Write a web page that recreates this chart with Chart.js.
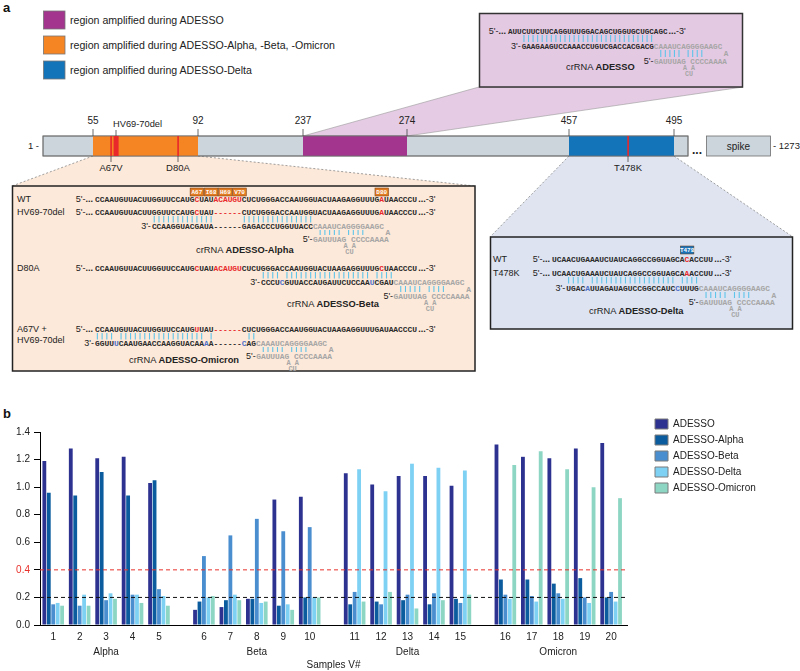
<!DOCTYPE html>
<html>
<head>
<meta charset="utf-8">
<script src="https://cdn.jsdelivr.net/npm/chart.js@4.4.1/dist/chart.umd.min.js"></script>
<style>
  html, body { margin: 0; padding: 0; background: #fff; }
  #page { position: relative; width: 800px; height: 671px; overflow: hidden; font-family: "Liberation Sans", Arial, sans-serif; }
  #diagram { position: absolute; left: 0; top: 0; }
  #chartBox { position: absolute; left: 0; top: 400px; width: 800px; height: 271px; }
  .panel { position: absolute; font-weight: bold; font-size: 13px; color: #111; }
</style>
</head>
<body>
<div id="page">
  <svg id="diagram" width="800" height="400"></svg>
  <div class="panel" style="left:3px;top:406px">b</div>
  <div id="chartBox"><canvas id="chart"></canvas></div>
</div>
<script>
// ---------- panel b data ----------
const samples = ['1', '2', '3', '4', '5', '6', '7', '8', '9', '10',
                 '11', '12', '13', '14', '15', '16', '17', '18', '19', '20'];
const variantGroups = ['Alpha', 'Beta', 'Delta', 'Omicron'];
const crRNAs = ['ADESSO', 'ADESSO-Alpha', 'ADESSO-Beta', 'ADESSO-Delta', 'ADESSO-Omicron'];

const adesso        = [1.19, 1.28, 1.21, 1.22, 1.03, 0.11, 0.13, 0.19, 0.91, 0.93,
                       1.10, 1.02, 1.08, 1.08, 1.01, 1.31, 1.22, 1.21, 1.28, 1.32];
const adessoAlpha   = [0.96, 0.94, 1.11, 0.94, 1.05, 0.17, 0.18, 0.19, 0.14, 0.20,
                       0.15, 0.17, 0.18, 0.15, 0.19, 0.33, 0.33, 0.30, 0.34, 0.20];
const adessoBeta    = [0.15, 0.14, 0.18, 0.22, 0.26, 0.50, 0.65, 0.77, 0.68, 0.71,
                       0.24, 0.15, 0.22, 0.23, 0.16, 0.22, 0.21, 0.23, 0.20, 0.24];
const adessoDelta   = [0.16, 0.22, 0.23, 0.22, 0.21, 0.20, 0.22, 0.16, 0.15, 0.20,
                       1.13, 0.97, 1.17, 1.14, 1.12, 0.19, 0.17, 0.19, 0.16, 0.17];
const adessoOmicron = [0.14, 0.14, 0.19, 0.16, 0.14, 0.21, 0.18, 0.17, 0.11, 0.20,
                       0.17, 0.24, 0.12, 0.18, 0.22, 1.16, 1.26, 1.13, 1.00, 0.92];

const cutoffs = [0.2, 0.4];
const yMax = 1.4;
const yStep = 0.2;

// ---------- panel a: schematic ----------
const svg = document.getElementById('diagram');
const NS = 'http://www.w3.org/2000/svg';
const SANS = 'Liberation Sans, Arial, sans-serif';
const MONO = 'Liberation Mono, monospace';
const SEQ_COLORS = { r: '#e8282b', b: '#4f70c8', g: '#a6a6a6' };

function add(tag, attrs, text) {
  const node = document.createElementNS(NS, tag);
  for (const k in attrs) node.setAttribute(k, attrs[k]);
  if (text !== undefined) node.textContent = text;
  svg.appendChild(node);
  return node;
}

// parts: string, or list of [text, bold]
function label(x, y, parts, opts = {}) {
  const size = opts.size || 9;
  const t = add('text', {
    x: x, y: y + size * 0.35, 'font-family': SANS, 'font-size': size,
    'text-anchor': opts.anchor || 'start', fill: opts.color || '#222'
  });
  if (typeof parts === 'string') parts = [[parts, !!opts.bold]];
  parts.forEach(([s, bold]) => {
    const sp = document.createElementNS(NS, 'tspan');
    if (bold) sp.setAttribute('font-weight', 'bold');
    sp.textContent = s;
    t.appendChild(sp);
  });
  return t;
}

function cx(box, pos) { return box.x0 + pos * box.fs * 0.6; }
function plainLen(str) { return str.replace(/\{[rbg]:/g, '').replace(/\}/g, '').length; }

function strand(box, pos, y, str, size) {
  const fs = size || box.fs;
  const t = add('text', {
    x: cx(box, pos), y: y + fs * 0.35, 'font-family': MONO, 'font-size': fs,
    'font-weight': 'bold', fill: '#2a2a2a', style: 'white-space:pre'
  });
  str.split(/(\{[rbg]:[^}]*\})/).forEach(part => {
    if (!part) return;
    const m = part.match(/^\{([rbg]):([^}]*)\}$/);
    const sp = document.createElementNS(NS, 'tspan');
    if (m) { sp.setAttribute('fill', SEQ_COLORS[m[1]]); sp.textContent = m[2]; }
    else sp.textContent = part;
    t.appendChild(sp);
  });
}

function target(box, y, str) {
  label(cx(box, 0) - 2, y, [["5'-", false], ['...', true]], { anchor: 'end', size: 9 });
  strand(box, 0, y, str);
  label(cx(box, plainLen(str)) + 1, y, [['...', true], ["-3'", false]], { size: 9 });
}

function pairs(box, y1, y2, ranges) {
  ranges.forEach(([a, b]) => {
    for (let i = a; i <= b; i++) {
      const x = cx(box, i + 0.5);
      add('line', { x1: x, x2: x, y1: y1, y2: y2, stroke: '#5ec4ea', 'stroke-width': 1.1 });
    }
  });
}

function hairpin(box, pos, y3, y5) {
  pairs(box, y3 + 4, y5 - 4, [[pos + 1, pos + 5], [pos + 7, pos + 10]]);
  strand(box, pos + 15.3, (y3 + y5) / 2, '{g:A}');
  label(cx(box, pos) - 0.5, y5, "5'-", { anchor: 'end', size: 9 });
  strand(box, pos, y5, '{g:GAUUUAG CCCCAAAA}');
  strand(box, pos + 6.4, y5 + 6.5, '{g:A A}', box.fs - 1);
  strand(box, pos + 6.8, y5 + 12.5, '{g:CU}', box.fs - 1);
}

// returns position right after the antisense part (start of the hairpin)
function antisense(box, pos, y, str) {
  label(cx(box, pos) - 1, y, "3'-", { anchor: 'end', size: 9 });
  strand(box, pos, y, str + '{g:CAAAUCAGGGGAAGC}');
  return pos + plainLen(str);
}

function codonTag(box, pos, y, text, fill) {
  const w = box.fs * 0.6 * 3;
  add('rect', { x: cx(box, pos) + 0.3, y: y - 4, width: w - 0.6, height: 8, fill: fill, stroke: '#6b3a10', 'stroke-width': 0.5 });
  add('text', { x: cx(box, pos) + w / 2, y: y + 2.2, 'font-family': MONO, 'font-size': 6, 'font-weight': 'bold',
    'text-anchor': 'middle', fill: '#fff' }, text);
}

// "a" + legend of amplified regions
label(3, 7, 'a', { bold: true, size: 13, color: '#111' });
const regionLegend = [
  ['#a3358f', 'region amplified during ADESSO', 20],
  ['#f58423', 'region amplified during ADESSO-Alpha, -Beta, -Omicron', 45],
  ['#1474b9', 'region amplified during ADESSO-Delta', 70]
];
regionLegend.forEach(([c, t, y]) => {
  add('rect', { x: 43.5, y: y - 9, width: 21.5, height: 18, fill: c, stroke: '#777', 'stroke-width': 0.8 });
  label(70, y, t, { size: 10.6 });
});

// connectors (drawn first, below boxes)
add('polygon', { points: '303,136 407,136 743,87 479,87', fill: '#e5cce4', stroke: '#999', 'stroke-width': 0.6 });
add('polygon', { points: '93,156 198,156 475,186 12,186', fill: '#fde9d9' });
add('polygon', { points: '569,156 674,156 793,237 490,237', fill: '#dfe4f0' });
[['93,156 12,186'], ['198,156 475,186'], ['569,156 490,237'], ['674,156 793,237']].forEach(([p]) => {
  add('polyline', { points: p, fill: 'none', stroke: '#888', 'stroke-width': 0.8, 'stroke-dasharray': '2,2' });
});

// genome bar
add('rect', { x: 43, y: 136, width: 645, height: 20, fill: '#ccd5db', stroke: '#6d6d6d', 'stroke-width': 0.8 });
add('rect', { x: 93, y: 136, width: 105, height: 20, fill: '#f58423' });
add('rect', { x: 303, y: 136, width: 104, height: 20, fill: '#a3358f' });
add('rect', { x: 569, y: 136, width: 105, height: 20, fill: '#1474b9' });
add('rect', { x: 43, y: 136, width: 645, height: 20, fill: 'none', stroke: '#6d6d6d', 'stroke-width': 0.8 });
add('rect', { x: 110.3, y: 136, width: 1.6, height: 20, fill: '#e8282b' });
add('rect', { x: 113.6, y: 136, width: 5, height: 20, fill: '#e8282b' });
add('rect', { x: 177.3, y: 136, width: 1.6, height: 20, fill: '#e8282b' });
add('rect', { x: 627.3, y: 136, width: 1.6, height: 20, fill: '#e8282b' });
add('rect', { x: 706.5, y: 136, width: 64, height: 20, fill: '#ccd5db', stroke: '#6d6d6d', 'stroke-width': 0.8 });
label(738.5, 146, 'spike', { anchor: 'middle', size: 10 });
label(697, 150, '...', { anchor: 'middle', size: 12, bold: true });
label(39, 146, '1 -', { anchor: 'end', size: 9.5 });
label(773, 146, '- 1273', { size: 9.5 });
[[93, '55'], [198, '92'], [303, '237'], [407, '274'], [569, '457'], [674, '495']].forEach(([x, t]) => {
  add('line', { x1: x, x2: x, y1: 129, y2: 136, stroke: '#444', 'stroke-width': 0.8 });
  label(x, 120, t, { anchor: 'middle', size: 10 });
});
add('line', { x1: 116, x2: 116, y1: 130, y2: 136, stroke: '#444', 'stroke-width': 0.8 });
label(113, 124, 'HV69-70del', { size: 9.3 });
[[111, 'A67V'], [178, 'D80A'], [628, 'T478K']].forEach(([x, t]) => {
  add('line', { x1: x, x2: x, y1: 156, y2: 162, stroke: '#444', 'stroke-width': 0.8 });
  label(x, 168, t, { anchor: 'middle', size: 9.5 });
});

// detail boxes
add('rect', { x: 479.5, y: 13.5, width: 263, height: 73.5, fill: '#e4c9e2', stroke: '#333', 'stroke-width': 1.5 });
add('rect', { x: 12.5, y: 186, width: 462.5, height: 185, fill: '#fde9d9', stroke: '#222', 'stroke-width': 1.5 });
add('rect', { x: 490.5, y: 237, width: 302, height: 92, fill: '#dde3f0', stroke: '#222', 'stroke-width': 1.5 });

// ADESSO box
const boxAdesso = { x0: 508, fs: 7.6 };
target(boxAdesso, 31, 'AUUCUUCUUCAGGUUUGGACAGCUGGUGCUGCAGC');
pairs(boxAdesso, 35, 42, [[3, 31]]);
const hpA = antisense(boxAdesso, 3, 46, 'GAAGAAGUCCAAACCUGUCGACCACGACG');
hairpin(boxAdesso, hpA, 46, 61);
label(566, 67, [['crRNA ', false], ['ADESSO', true]], { size: 9.3 });

// Alpha / Beta / Omicron box
const boxAlpha = { x0: 95, fs: 7.9 };
const wtSeq  = 'CCAAUGUUACUUGGUUCCAUG{r:C}UAU{r:ACAUGU}CUCUGGGACCAAUGGUACUAAGAGGUUUG{r:A}UAACCCU';
const hvSeq  = 'CCAAUGUUACUUGGUUCCAUG{r:C}UAU{r:------}CUCUGGGACCAAUGGUACUAAGAGGUUUG{r:A}UAACCCU';
const d80Seq = 'CCAAUGUUACUUGGUUCCAUG{r:C}UAU{r:ACAUGU}CUCUGGGACCAAUGGUACUAAGAGGUUUG{r:C}UAACCCU';
const omiSeq = 'CCAAUGUUACUUGGUUCCAUG{r:U}UAU{r:------}CUCUGGGACCAAUGGUACUAAGAGGUUUGAUAACCCU';

label(17, 199, 'WT');
label(17, 212, 'HV69-70del');
label(17, 268, 'D80A');
label(17, 329, 'A67V +');
label(17, 340, 'HV69-70del');

['A67', 'I68', 'H69', 'V70'].forEach((t, i) => codonTag(boxAlpha, 20 + 3 * i, 192, t, '#e27b22'));
codonTag(boxAlpha, 59, 192, 'D80', '#e27b22');

target(boxAlpha, 199, wtSeq);
target(boxAlpha, 212, hvSeq);
pairs(boxAlpha, 216, 222.5, [[12, 24], [31, 45]]);
const hpAlpha = antisense(boxAlpha, 12, 226, 'CCAAGGUACGAUA------GAGACCCUGGUUACC');
hairpin(boxAlpha, hpAlpha, 226, 239);
label(196, 250, [['crRNA ', false], ['ADESSO-Alpha', true]], { size: 9.3 });

target(boxAlpha, 268, d80Seq);
pairs(boxAlpha, 272, 278.5, [[35, 38], [40, 57], [59, 62]]);
const hpBeta = antisense(boxAlpha, 35, 282, 'CCCU{b:C}GUUACCAUGAUUCUCCAA{b:U}CGAU');
hairpin(boxAlpha, hpBeta, 282, 296);
label(287, 304, [['crRNA ', false], ['ADESSO-Beta', true]], { size: 9.3 });

target(boxAlpha, 329, omiSeq);
pairs(boxAlpha, 333, 339.5, [[0, 3], [5, 22], [24, 24], [32, 33]]);
const hpOmi = antisense(boxAlpha, 0, 343, 'GGUU{b:U}CAAUGAACCAAGGUACAA{b:A}A------{b:C}AG');
hairpin(boxAlpha, hpOmi, 343, 356);
label(129, 360, [['crRNA ', false], ['ADESSO-Omicron', true]], { size: 9.3 });

// Delta box
const boxDelta = { x0: 552, fs: 7.9 };
label(493, 259, 'WT');
label(493, 273, 'T478K');
codonTag(boxDelta, 27, 250, 'T478', '#1f73b7');
target(boxDelta, 259, 'UCAACUGAAAUCUAUCAGGCCGGUAGCA{r:C}ACCUU');
target(boxDelta, 273, 'UCAACUGAAAUCUAUCAGGCCGGUAGCA{r:A}ACCUU');
pairs(boxDelta, 277, 283.5, [[3, 6], [8, 25], [27, 30]]);
const hpDelta = antisense(boxDelta, 3, 288, 'UGAC{b:A}UUAGAUAGUCCGGCCAUC{b:C}UUUG');
hairpin(boxDelta, hpDelta, 288, 302);
label(589, 311, [['crRNA ', false], ['ADESSO-Delta', true]], { size: 9.3 });

// ---------- panel b: chart ----------
Chart.defaults.font.family = SANS;
Chart.defaults.color = '#222';

const groupGap = 0.7;
const xPos = samples.map((s, i) => Math.floor(i / 5) * (5 + groupGap) + (i % 5));
const xMin = -0.5;
const xMax = xPos[xPos.length - 1] + 0.6;

const series = [adesso, adessoAlpha, adessoBeta, adessoDelta, adessoOmicron];
const barColors = ['#2d3190', '#0b5c9e', '#4a8ed0', '#7fd1f4', '#8ed6c4'];
const cutoffColors = ['#111', '#e8312b'];

const datasets = series.map((vals, k) => ({
  type: 'bar',
  label: crRNAs[k],
  data: vals.map((v, i) => ({ x: xPos[i], y: v })),
  backgroundColor: barColors[k],
  borderWidth: 0,
  categoryPercentage: 0.84,
  barPercentage: 0.86
}));
cutoffs.forEach((c, k) => {
  datasets.push({
    type: 'line',
    label: 'cutoff ' + c,
    data: [{ x: xMin, y: c }, { x: xMax, y: c }],
    borderColor: cutoffColors[k],
    borderWidth: 1,
    borderDash: [4, 3],
    pointRadius: 0,
    order: -1
  });
});

const legendShift = {
  id: 'legendShift',
  beforeInit(chart) {
    const lg = chart.legend;
    if (!lg) return;
    const fit = lg.fit;
    lg.fit = function () { fit.call(this); this.width = 173; };
  },
  afterLayout(chart) {
    const lg = chart.legend;
    lg.left += 22; lg.right += 22;
    lg.top -= 19; lg.bottom -= 19;
  }
};

new Chart(document.getElementById('chart'), {
  data: { datasets: datasets },
  options: {
    responsive: true,
    maintainAspectRatio: false,
    animation: false,
    layout: { padding: { top: 32, left: 0, right: 0, bottom: 0 } },
    plugins: {
      tooltip: { enabled: false },
      legend: {
        position: 'right',
        align: 'start',
        labels: {
          boxWidth: 13,
          boxHeight: 10,
          padding: 6,
          color: '#222',
          font: { size: 10 },
          generateLabels(chart) {
            return Chart.defaults.plugins.legend.labels.generateLabels(chart)
              .filter(it => it.datasetIndex < crRNAs.length)
              .map(it => Object.assign(it, { strokeStyle: '#7a7a7a', lineWidth: 1 }));
          }
        }
      }
    },
    scales: {
      x: {
        type: 'linear',
        min: xMin,
        max: xMax,
        bounds: 'data',
        offset: false,
        grid: { display: false, drawTicks: false },
        border: { display: true, color: '#000', width: 1 },
        afterBuildTicks(scale) { scale.ticks = xPos.map(v => ({ value: v })); },
        afterFit(scale) { scale.height = 46; },
        ticks: {
          autoSkip: false,
          maxRotation: 0,
          padding: 5,
          color: '#222',
          font: { size: 10, lineHeight: 1.5 },
          callback: (v, i) => (i % 5 === 2 ? [samples[i], variantGroups[Math.floor(i / 5)]] : samples[i])
        },
        title: { display: true, text: 'Samples V#', color: '#222', font: { size: 10 }, padding: 0 }
      },
      y: {
        min: 0,
        max: yMax,
        grid: { drawOnChartArea: false, drawTicks: true, tickLength: 6, color: '#000' },
        border: { display: true, color: '#000', width: 1 },
        afterFit(scale) { scale.width = 40; },
        ticks: {
          stepSize: yStep,
          padding: 4,
          font: { size: 10 },
          color: ctx => (Math.abs(ctx.tick.value - cutoffs[1]) < 1e-6 ? '#e8312b' : '#222'),
          callback: v => v.toFixed(1)
        }
      }
    }
  },
  plugins: [legendShift]
});
</script>
</body>
</html>
